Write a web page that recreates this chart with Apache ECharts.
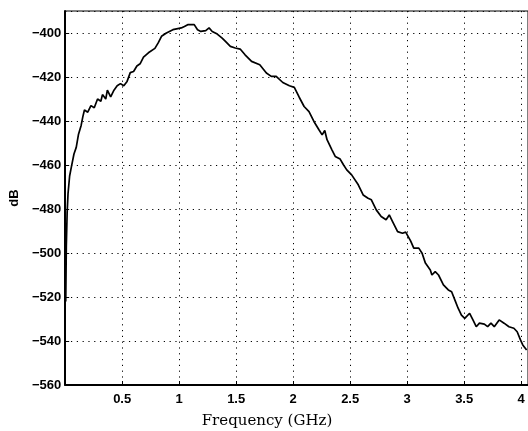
<!DOCTYPE html>
<html><head><meta charset="utf-8">
<script src="https://cdn.jsdelivr.net/npm/echarts@6/dist/echarts.min.js"></script>
<style>html,body{margin:0;padding:0;background:#fff}#c{width:528px;height:431px}</style>
</head><body><div id="c"></div>
<script>
const freqGHz = [0.005,0.010,0.017,0.025,0.039,0.054,0.077,0.097,0.117,0.140,0.155,0.169,0.198,0.226,0.255,0.284,0.313,0.327,0.356,0.370,0.399,0.428,0.456,0.485,0.514,0.543,0.571,0.600,0.629,0.657,0.687,0.730,0.787,0.816,0.845,0.888,0.945,0.988,1.018,1.046,1.075,1.132,1.161,1.190,1.233,1.262,1.290,1.334,1.377,1.406,1.449,1.492,1.535,1.578,1.635,1.707,1.765,1.808,1.851,1.909,1.967,2.010,2.053,2.096,2.139,2.182,2.226,2.254,2.277,2.297,2.340,2.369,2.412,2.441,2.470,2.513,2.527,2.571,2.614,2.657,2.686,2.729,2.772,2.815,2.843,2.872,2.916,2.959,2.987,3.030,3.058,3.102,3.131,3.160,3.203,3.217,3.246,3.275,3.318,3.361,3.390,3.419,3.447,3.476,3.505,3.548,3.577,3.606,3.634,3.677,3.706,3.735,3.764,3.807,3.850,3.893,3.936,3.965,3.994,4.014,4.048];
const dB = [-522,-497,-482,-473,-465,-461,-455,-452,-446,-442,-438,-435,-436,-433,-434,-430,-431,-428,-430,-426,-429,-426,-424,-423,-424,-422,-418,-417.5,-415,-414,-411,-409,-407,-404.5,-401.5,-400,-398.5,-398,-397.7,-397,-396.2,-396.2,-398.5,-399.3,-398.9,-397.7,-399.3,-400.5,-402.3,-403.8,-406.1,-406.8,-407.3,-409.9,-412.9,-414.4,-418.2,-419.7,-419.7,-422.5,-424,-424.7,-429.2,-433.4,-435.7,-440.2,-444,-446.3,-444.3,-448.5,-453.1,-456.1,-457.3,-459.9,-462.2,-464.5,-463.7,-469,-473.6,-475.1,-475.8,-480.4,-483.4,-484.9,-482.7,-485.7,-490.3,-491,-490.5,-494.5,-497.8,-497.8,-500.1,-504.6,-507.7,-510,-508.5,-510,-514.5,-516.8,-517.6,-521.4,-525.1,-528.2,-529.7,-527.4,-530.4,-533.5,-531.9,-532.3,-533.5,-531.9,-533.5,-530.4,-531.9,-533.5,-534.2,-535.8,-539.5,-541.8,-544.1];
const xTitle = 'Frequency (GHz)';
const yTitle = 'dB';

const chart = echarts.init(document.getElementById('c'), null, {renderer:'canvas'});
const lbl = {color:'#000', fontFamily:'Liberation Sans, Arial, sans-serif', fontSize:13, fontWeight:'bold'};
chart.setOption({
  animation:false,
  backgroundColor:'#fff',
  grid:{left:59, top:11, width:471, height:374, show:true, borderColor:'#000', borderWidth:1},
  xAxis:{
    type:'value', min:0, max:4.06, interval:0.5,
    axisLine:{show:true, onZero:false, lineStyle:{color:'#000', width:2}},
    axisTick:{show:true, inside:true, length:4, lineStyle:{color:'#000', width:1}},
    axisLabel:Object.assign({margin:8, showMinLabel:false, showMaxLabel:false,
      formatter:v=>String(v)}, lbl),
    splitLine:{show:true, lineStyle:{color:'#000', width:1, type:[1.2,4.6]}}
  },
  yAxis:{
    type:'value', min:-560, max:-390, interval:20,
    name:yTitle, nameLocation:'middle', nameGap:38,
    nameTextStyle:{color:'#000', fontFamily:'Liberation Sans, Arial, sans-serif', fontSize:13, fontWeight:'bold'},
    axisLine:{show:true, lineStyle:{color:'#000', width:2}},
    axisTick:{show:true, inside:true, length:4, lineStyle:{color:'#000', width:1}},
    axisLabel:Object.assign({margin:4, showMaxLabel:false,
      formatter:v=>String(v).replace('-','\u2212')}, lbl),
    splitLine:{show:true, lineStyle:{color:'#000', width:1, type:[1.2,4.6]}}
  },
  graphic:[{type:'text', style:{text:xTitle, x:267, y:421, textAlign:'center', textVerticalAlign:'middle',
    font:'15px "DejaVu Serif", "Liberation Serif", serif', fill:'#000'}}],
  series:[{type:'line', data:freqGHz.map((f,i)=>[f,dB[i]]), showSymbol:false, symbol:'none',
    lineStyle:{color:'#000', width:1.7}, clip:true}]
});
</script></body></html>
